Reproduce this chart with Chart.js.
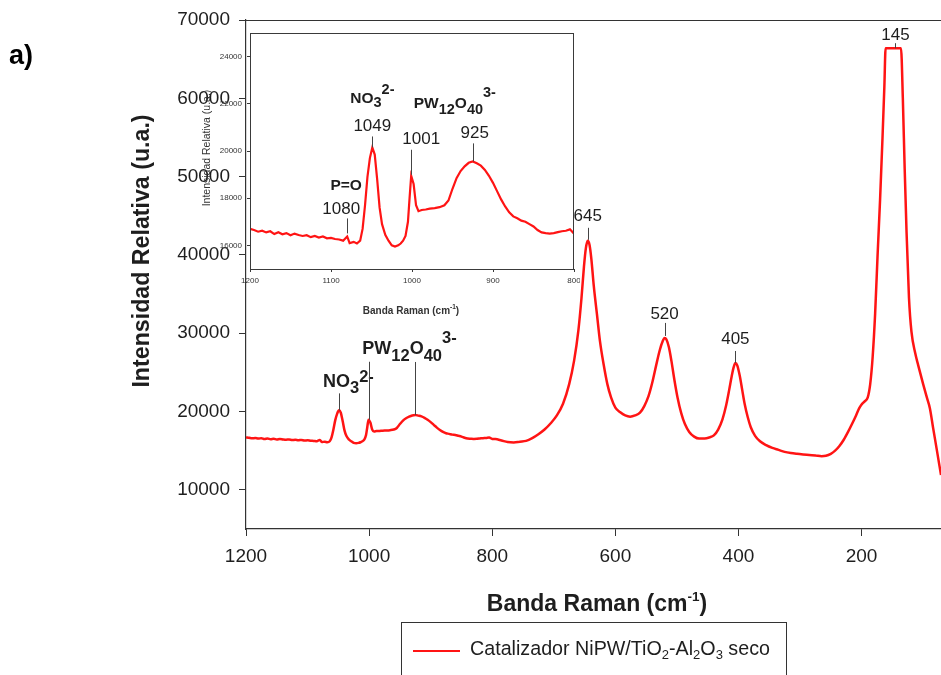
<!DOCTYPE html>
<html>
<head>
<meta charset="utf-8">
<script src="https://cdn.jsdelivr.net/npm/chart.js@4.4.1/dist/chart.umd.min.js"></script>
<style>
  html, body { margin: 0; padding: 0; background: #fff; }
  #wrap { position: relative; width: 941px; height: 675px; overflow: hidden; background: #fff; }
  #mainChart { position: absolute; left: 0; top: 0; }
  #insetChart { position: absolute; left: 195px; top: 28px; }
</style>
</head>
<body>
<div id="wrap">
  <canvas id="mainChart" width="941" height="675"></canvas>
  <canvas id="insetChart" width="385" height="300"></canvas>
</div>
<script>
// Raman spectrum, wavenumber (cm-1) descending, intensity in a.u.
const ramanShift = [
  1200, 1195, 1190, 1185, 1180, 1175, 1170, 1165, 1160, 1155,
  1150, 1145, 1140, 1135, 1130, 1125, 1120, 1115, 1110, 1105,
  1100, 1095, 1090, 1085, 1080, 1077, 1072, 1068, 1064, 1061,
  1058, 1055, 1052, 1049, 1046, 1043, 1040, 1037, 1033, 1029,
  1025, 1021, 1017, 1014, 1011, 1008, 1005, 1003, 1001, 998,
  995, 992, 988, 983, 978, 972, 966, 960, 955, 950,
  945, 940, 935, 930, 925, 920, 915, 910, 905, 900,
  895, 890, 885, 880, 875, 870, 865, 860, 855, 850,
  845, 840, 835, 830, 825, 820, 815, 810, 805, 800,
  795, 785, 775, 765, 755, 745, 735, 725, 715, 705,
  695, 685, 675, 667, 660, 655, 651, 648, 645, 642,
  639, 635, 630, 625, 619, 613, 607, 600, 592, 584,
  576, 568, 560, 553, 546, 540, 534, 528, 523, 520,
  517, 513, 509, 504, 499, 493, 487, 480, 472, 464,
  455, 447, 440, 433, 426, 420, 415, 411, 408, 405,
  402, 398, 394, 390, 385, 380, 373, 365, 355, 345,
  335, 325, 315, 305, 295, 285, 275, 265, 258, 250,
  243, 236, 229, 222, 215, 209, 204, 200, 195, 190,
  186, 182, 178, 174, 170, 166, 163, 161, 145, 136,
  133, 130, 127, 123, 119, 113, 108, 100, 94, 89,
  84, 78, 71
];
const intensity = [
  16700, 16650, 16580, 16620, 16550, 16600, 16480, 16560, 16470, 16520,
  16430, 16500, 16440, 16400, 16430, 16350, 16400, 16330, 16380, 16300,
  16320, 16270, 16250, 16200, 16380, 16100, 16150, 16080, 16200, 16700,
  17700, 18900, 19700, 20150, 19850, 18800, 17600, 16900, 16450, 16200,
  16000, 15950, 16000, 16080, 16200, 16400, 17000, 18000, 18950, 18600,
  17700, 17450, 17500, 17520, 17560, 17580, 17620, 17700, 17900, 18400,
  18850, 19150, 19350, 19500, 19560, 19480, 19380, 19200, 18950, 18650,
  18300, 17950, 17650, 17400, 17230, 17150, 17050, 17000, 16900, 16800,
  16650, 16550, 16520, 16500, 16520, 16560, 16600, 16620, 16680, 16500,
  16480, 16300, 16100, 16050, 16150, 16250, 16600, 17100, 17700, 18500,
  19500, 21000, 23500, 26500, 30400, 34500, 38500, 40800, 41800, 41300,
  39500, 36000, 32500, 29000, 26000, 23500, 21800, 20500, 19900, 19500,
  19350, 19500, 19850, 20700, 22000, 23700, 25800, 27800, 29000, 29400,
  29200, 28200, 26500, 24000, 21800, 19800, 18400, 17400, 16800, 16550,
  16550, 16700, 16950, 17700, 19000, 20800, 22800, 24500, 25600, 26200,
  25900, 24600, 22800, 21000, 19300, 18000, 16900, 16200, 15700, 15350,
  15100, 14850, 14700, 14600, 14520, 14450, 14400, 14300, 14350, 14600,
  15000, 15600, 16400, 17400, 18500, 19500, 20400, 20900, 21300, 21800,
  23500, 27000, 32500, 40000, 47000, 55000, 61500, 66400, 66400, 66400,
  60000, 51000, 43000, 34500, 30200, 27500, 25900, 23500, 21800, 20400,
  18000, 15200, 11900
];

const mainXTicks = [1200, 1000, 800, 600, 400, 200];
const mainYTicks = [10000, 20000, 30000, 40000, 50000, 60000, 70000];
const insetXTicks = [1200, 1100, 1000, 900, 800];
const insetYTicks = [16000, 18000, 20000, 22000, 24000];

const peakBands = [645, 520, 405, 145];
const insetBands = [1080, 1049, 1001, 925];
const seriesName = 'Catalizador NiPW/TiO2-Al2O3 seco';

const FONT = '"Liberation Sans", Arial, Helvetica, sans-serif';
const RED = '#ff1414';
const AXIS = '#333';
const INK = '#1e1e1e';

const points = ramanShift.map((x, i) => ({ x: x, y: intensity[i] }));

function bandHeight(band) {
  return intensity[ramanShift.indexOf(band)];
}

// keep the layout padding exactly as configured
function noScalePadding(a) {
  a.paddingLeft = 0; a.paddingRight = 0; a.paddingTop = 0; a.paddingBottom = 0;
}

// text made of runs: 0 = normal, -1 = subscript, 1 = superscript
function drawRich(ctx, parts, x, y, o) {
  ctx.save();
  ctx.textBaseline = 'middle';
  ctx.textAlign = 'left';
  const fontFor = m => `${o.weight || 'normal'} ${m === 0 ? o.size : o.small}px ${FONT}`;
  let total = 0;
  parts.forEach(([t, m]) => { ctx.font = fontFor(m); total += ctx.measureText(t).width; });
  let cx = o.align === 'center' ? x - total / 2 : x;
  parts.forEach(([t, m]) => {
    ctx.font = fontFor(m);
    const dy = m === -1 ? o.subDy : (m === 1 ? o.supDy : 0);
    ctx.fillText(t, cx, y + dy);
    cx += ctx.measureText(t).width;
  });
  ctx.restore();
  return total;
}

function vline(ctx, x, y1, y2) {
  ctx.beginPath();
  ctx.moveTo(Math.round(x) + 0.5, y1);
  ctx.lineTo(Math.round(x) + 0.5, y2);
  ctx.stroke();
}

// label layout for the main spectrum
const mainPeakLayout = {
  645: { gap: 1, lead: 12, lift: 12 },
  520: { gap: 2, lead: 13, lift: 9 },
  405: { gap: 0, lead: 12, lift: 12 },
  145: { gap: 0, lead: 5, lift: 8 }
};
const mainGroups = [
  { band: 1049, lead: 17, parts: [['NO', 0], ['3', -1], ['2-', 1]], dx: -16, dy: -11, subDy: 6, supDy: -5 },
  { band: 1001, lead: 58, parts: null },
  { band: 925, lead: 53, parts: [['PW', 0], ['12', -1], ['O', 0], ['40', -1], ['3-', 1]], dx: -53, dy: -13, subDy: 7, supDy: -11 }
];

const mainDecor = {
  id: 'mainDecor',
  afterDraw(chart) {
    const ctx = chart.ctx;
    const { left, right, top, bottom } = chart.chartArea;
    const xs = chart.scales.x, ys = chart.scales.y;

    ctx.save();
    // top frame
    ctx.strokeStyle = AXIS;
    ctx.lineWidth = 1.2;
    ctx.beginPath();
    ctx.moveTo(left, top + 0.5);
    ctx.lineTo(right, top + 0.5);
    ctx.stroke();

    // panel tag
    ctx.fillStyle = '#000';
    ctx.font = `bold 27px ${FONT}`;
    ctx.textBaseline = 'middle';
    ctx.textAlign = 'left';
    ctx.fillText('a)', 9, 57);

    // axis titles
    ctx.fillStyle = INK;
    drawRich(ctx, [['Banda Raman (cm', 0], ['-1', 1], [')', 0]], 597, 605,
      { size: 23, small: 13.5, weight: 'bold', supDy: -8, subDy: 0, align: 'center' });
    ctx.save();
    ctx.translate(143, 251);
    ctx.rotate(-Math.PI / 2);
    ctx.font = `bold 23.2px ${FONT}`;
    ctx.textAlign = 'center';
    ctx.textBaseline = 'middle';
    ctx.fillText('Intensidad Relativa (u.a.)', 0, 0);
    ctx.restore();

    // peak positions
    ctx.strokeStyle = '#444';
    ctx.lineWidth = 1;
    ctx.fillStyle = INK;
    ctx.font = `17px ${FONT}`;
    ctx.textAlign = 'center';
    ctx.textBaseline = 'middle';
    peakBands.forEach(b => {
      const L = mainPeakLayout[b];
      const px = xs.getPixelForValue(b);
      const py = ys.getPixelForValue(bandHeight(b));
      const y2 = py - L.gap, y1 = y2 - L.lead;
      vline(ctx, px, y1, y2);
      ctx.fillText(String(b), px, y1 - L.lift);
    });

    mainGroups.forEach(g => {
      const px = xs.getPixelForValue(g.band);
      const py = ys.getPixelForValue(bandHeight(g.band));
      const y1 = py - g.lead;
      vline(ctx, px, y1, py);
      if (g.parts) {
        drawRich(ctx, g.parts, px + g.dx, y1 + g.dy,
          { size: 18, small: 16.5, weight: 'bold', subDy: g.subDy, supDy: g.supDy });
      }
    });

    // legend box
    ctx.strokeStyle = AXIS;
    ctx.lineWidth = 1;
    ctx.strokeRect(401.5, 622.5, 385, 70);
    ctx.strokeStyle = RED;
    ctx.lineWidth = 2;
    ctx.beginPath();
    ctx.moveTo(413, 651);
    ctx.lineTo(460, 651);
    ctx.stroke();
    ctx.fillStyle = INK;
    drawRich(ctx, [['Catalizador NiPW/TiO', 0], ['2', -1], ['-Al', 0], ['2', -1], ['O', 0], ['3', -1], [' seco', 0]],
      470, 650, { size: 19.7, small: 13, subDy: 5, supDy: 0 });
    ctx.restore();
  }
};

new Chart(document.getElementById('mainChart'), {
  type: 'line',
  data: {
    datasets: [{
      label: seriesName,
      data: points,
      borderColor: RED,
      borderWidth: 2.5,
      pointRadius: 0,
      cubicInterpolationMode: 'monotone',
      fill: false
    }]
  },
  options: {
    responsive: false,
    animation: false,
    events: [],
    layout: { padding: { top: 20, left: 0, right: 0, bottom: 0 } },
    plugins: { legend: { display: false }, tooltip: { enabled: false } },
    scales: {
      x: {
        type: 'linear',
        reverse: true,
        min: 71,
        max: 1200,
        afterBuildTicks: a => { a.ticks = mainXTicks.map(v => ({ value: v })); },
        afterFit: a => { a.height = 146; noScalePadding(a); },
        ticks: {
          callback: v => String(v),
          font: { family: FONT, size: 19 },
          color: INK,
          padding: 9,
          maxRotation: 0,
          autoSkip: false
        },
        grid: { drawOnChartArea: false, tickLength: 7, color: AXIS },
        border: { color: AXIS, width: 1.2 }
      },
      y: {
        type: 'linear',
        min: 5000,
        max: 70000,
        afterBuildTicks: a => { a.ticks = mainYTicks.map(v => ({ value: v })); },
        afterFit: a => { a.width = 246; noScalePadding(a); },
        ticks: {
          callback: v => String(v),
          font: { family: FONT, size: 19 },
          color: INK,
          padding: 9
        },
        grid: { drawOnChartArea: false, tickLength: 7, color: AXIS },
        border: { color: AXIS, width: 1.2 }
      }
    }
  },
  plugins: [mainDecor]
});

// zoomed view of the 1200-800 cm-1 region
const insetLayout = {
  1080: { gap: 3, lead: 15, dx: -6, lift: 9, parts: [['P=O', 0]], cdx: -1, cdy: -33, centered: true },
  1049: { gap: 0, lead: 11, dx: 0, lift: 10, parts: [['NO', 0], ['3', -1], ['2-', 1]], cdx: -22, cdy: -37.5, subDy: 4, supDy: -8.5 },
  1001: { gap: 1, lead: 25, dx: 10, lift: 10 },
  925: { gap: 0, lead: 18, dx: 2, lift: 10, parts: [['PW', 0], ['12', -1], ['O', 0], ['40', -1], ['3-', 1]], cdx: -59, cdy: -40, subDy: 6.5, supDy: -10 }
};

const insetDecor = {
  id: 'insetDecor',
  afterDraw(chart) {
    const ctx = chart.ctx;
    const { left, right, top, bottom } = chart.chartArea;
    const xs = chart.scales.x, ys = chart.scales.y;
    ctx.save();
    ctx.strokeStyle = '#3a3a3a';
    ctx.lineWidth = 1;
    ctx.strokeRect(left + 0.5, top + 0.5, right - left - 1, bottom - top);

    ctx.fillStyle = '#333';
    drawRich(ctx, [['Banda Raman (cm', 0], ['-1', 1], [')', 0]], 216, 283,
      { size: 10, small: 6.5, weight: 'bold', supDy: -4, subDy: 0, align: 'center' });
    ctx.save();
    ctx.translate(12, 120);
    ctx.rotate(-Math.PI / 2);
    ctx.font = `10.5px ${FONT}`;
    ctx.textAlign = 'center';
    ctx.textBaseline = 'middle';
    ctx.fillText('Intensidad Relativa (u.a.)', 0, 0);
    ctx.restore();

    ctx.strokeStyle = '#444';
    ctx.fillStyle = INK;
    insetBands.forEach(b => {
      const L = insetLayout[b];
      const px = xs.getPixelForValue(b);
      const py = ys.getPixelForValue(bandHeight(b));
      const y2 = py - L.gap, y1 = y2 - L.lead;
      vline(ctx, px, y1, y2);
      ctx.font = `17px ${FONT}`;
      ctx.textAlign = 'center';
      ctx.textBaseline = 'middle';
      ctx.fillText(String(b), px + L.dx, y1 - L.lift);
      if (L.parts) {
        drawRich(ctx, L.parts, px + L.cdx, y1 + L.cdy,
          { size: 15.5, small: 14.5, weight: 'bold', subDy: L.subDy || 0, supDy: L.supDy || 0,
            align: L.centered ? 'center' : 'left' });
      }
    });
    ctx.restore();
  }
};

new Chart(document.getElementById('insetChart'), {
  type: 'line',
  data: {
    datasets: [{
      label: seriesName,
      data: points,
      borderColor: RED,
      borderWidth: 2.2,
      pointRadius: 0,
      fill: false
    }]
  },
  options: {
    responsive: false,
    animation: false,
    events: [],
    layout: { padding: { top: 5, left: 0, right: 6, bottom: 0 } },
    plugins: { legend: { display: false }, tooltip: { enabled: false } },
    scales: {
      x: {
        type: 'linear',
        reverse: true,
        min: 800,
        max: 1200,
        afterBuildTicks: a => { a.ticks = insetXTicks.map(v => ({ value: v })); },
        afterFit: a => { a.height = 59; noScalePadding(a); },
        ticks: { callback: v => String(v), font: { family: FONT, size: 8 }, color: '#333', padding: 4, maxRotation: 0, autoSkip: false },
        grid: { drawOnChartArea: false, tickLength: 3, color: '#3a3a3a' },
        border: { display: false }
      },
      y: {
        type: 'linear',
        min: 15000,
        max: 25000,
        afterBuildTicks: a => { a.ticks = insetYTicks.map(v => ({ value: v })); },
        afterFit: a => { a.width = 55; noScalePadding(a); },
        ticks: { callback: v => String(v), font: { family: FONT, size: 8 }, color: '#333', padding: 5 },
        grid: { drawOnChartArea: false, tickLength: 3, color: '#3a3a3a' },
        border: { display: false }
      }
    }
  },
  plugins: [insetDecor]
});
</script>
</body>
</html>
